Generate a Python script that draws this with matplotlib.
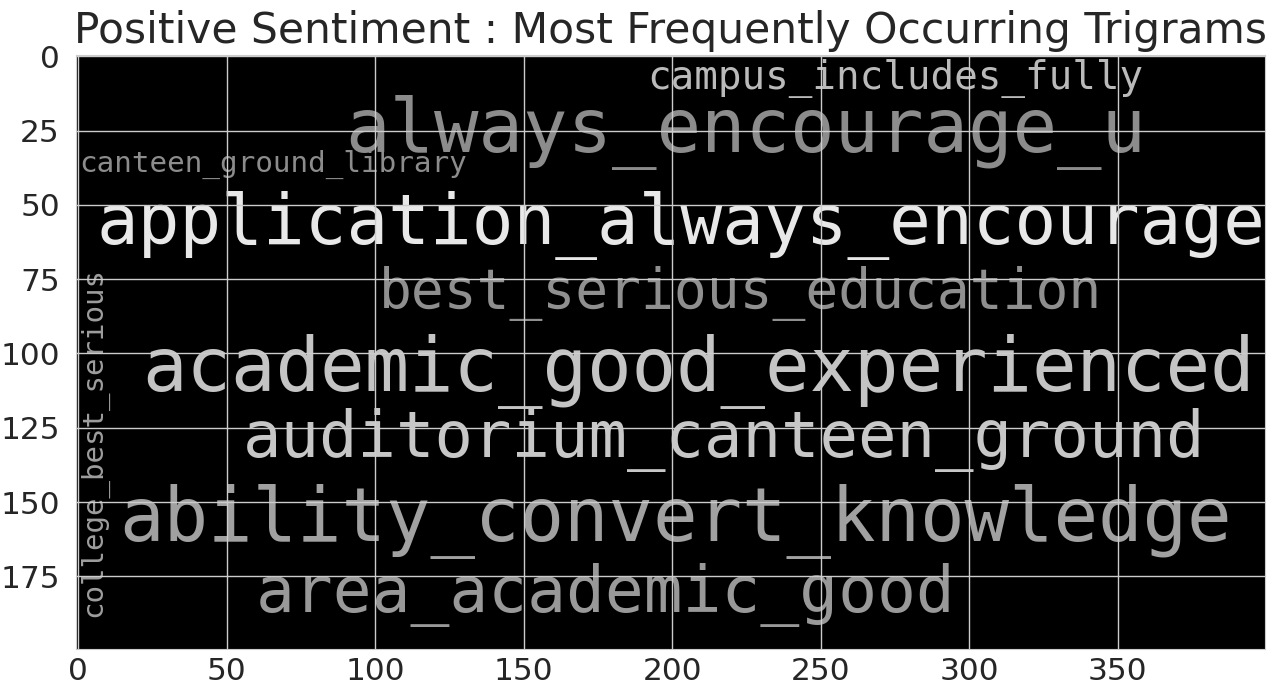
import numpy as np
import matplotlib
matplotlib.use("Agg")
import matplotlib.pyplot as plt
import seaborn as sns

# trigrams in the cloud and their font size on the 400x200 canvas
words = ["application_always_encourage", "academic_good_experienced",
         "ability_convert_knowledge", "always_encourage_u",
         "auditorium_canteen_ground", "area_academic_good",
         "best_serious_education", "campus_includes_fully",
         "canteen_ground_library", "college_best_serious"]
word_size = [23.3, 24.9, 24.9, 24.9, 21.5, 21.7, 18.4, 13.2, 9.9, 9.8]
word_grey = [0.91, 0.77, 0.63, 0.55, 0.78, 0.60, 0.56, 0.73, 0.55, 0.62]

# layout on the canvas: left x, baseline y, rotation
word_x = [6.3, 21.5, 14.0, 89.9, 55.6, 59.8, 101.3, 191.5, 0.4, 7.9]
word_y = [63.1, 112.5, 163.0, 32.2, 135.0, 187.1, 84.7, 11.0, 39.0, 188.8]
word_rot = [0, 0, 0, 0, 0, 0, 0, 0, 0, 90]

canvas_w, canvas_h = 400, 200

sns.set_style("whitegrid")
plt.rcParams['font.family'] = ['DejaVu Sans']

fig = plt.figure(figsize=(12.79, 6.97), dpi=100)
ax = fig.add_axes([0.0598, 0.0685, 0.9292, 0.853])

ax.imshow(np.zeros((canvas_h, canvas_w, 3)), aspect='equal')

# canvas pixel -> figure points
px_per_unit = 0.9292 * 1279 / canvas_w
for w, s, g, x, y, r in zip(words, word_size, word_grey, word_x, word_y, word_rot):
    fs = s * px_per_unit * 0.72
    ax.text(x, y, w, rotation=r, rotation_mode='anchor', fontsize=fs,
            family='DejaVu Sans Mono', color=str(g), ha='left', va='baseline',
            zorder=0.3, clip_on=True)

ax.set_xticks(np.arange(0, 400, 50))
ax.set_yticks(np.arange(0, 200, 25))
ax.tick_params(labelsize=22.5, colors='#262626', length=0)
ax.tick_params(axis='y', pad=12)
ax.tick_params(axis='x', pad=5.5)
ax.grid(True, color='0.8', linewidth=1)
for sp in ax.spines.values():
    sp.set_color('0.8')
ax.set_title("Positive Sentiment : Most Frequently Occurring Trigrams",
             fontsize=30.5, color='#262626', pad=8.4)

fig.savefig("out.png", dpi=100)
